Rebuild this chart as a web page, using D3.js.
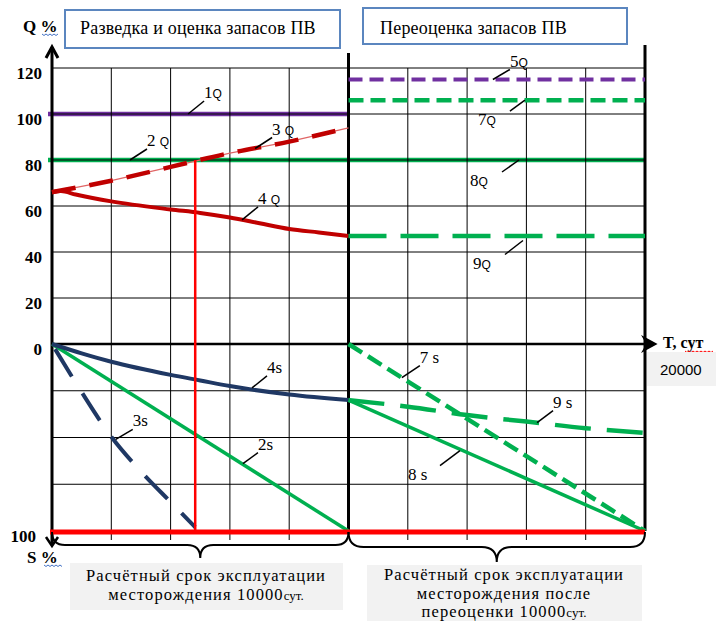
<!DOCTYPE html>
<html>
<head>
<meta charset="utf-8">
<script src="https://cdn.jsdelivr.net/npm/d3@7"></script>
<style>
  body { margin: 0; background: #fff; }
  svg text { font-family: "Liberation Serif", "Times New Roman", serif; fill: #000; }
</style>
</head>
<body>
<div id="chart-area"></div>
<script>
// шкалы
var qTicks = [0, 20, 40, 60, 80, 100, 120];
var sTicks = [25, 50, 75, 100];
var tGrid = [2000, 4000, 6000, 8000, 12000, 14000, 16000, 18000];

// кривые Q, %  ([T, сут ; Q, %])
var q1 = [[0, 100], [10000, 100]];
var q3 = [[0, 66], [2000, 71], [4000, 77], [6000, 83], [8000, 88], [10000, 94]];
var q4 = [[0, 66], [300, 66.5], [800, 65], [2000, 62], [4000, 58.5], [5000, 57],
          [6000, 55], [7000, 52.5], [8000, 50], [9000, 48.5], [10000, 47]];
var q5 = [[10000, 115], [20000, 115]];
var q7 = [[10000, 106], [20000, 106]];
var q8 = [[0, 80], [20000, 80]];
var q9 = [[10000, 47], [20000, 47]];

// кривые S, %
var s2 = [[0, 0], [10000, 100]];
var s3 = [[0, 0], [950, 24.5], [1950, 48.5], [3050, 69], [4000, 84.5], [4830, 98]];
var s4 = [[0, 0], [1000, 5], [2000, 9.5], [4000, 16.5], [5000, 19.5], [6000, 22.5],
          [8000, 27], [10000, 30]];
var s7 = [[10000, 0], [20000, 100]];
var s8 = [[10000, 30], [20000, 100]];
var s9 = [[10000, 30], [12000, 33.5], [14000, 38], [16000, 41.5], [18000, 45], [20000, 47.5]];

var tLife = 4830;   // красная вертикаль: Q = 80 %
var tMax = 20000;

var svg = d3.select("#chart-area")
  .append("svg")
  .attr("width", 716)
  .attr("height", 621);

var x = d3.scaleLinear().domain([0, tMax]).range([52, 645]);
var yQ = d3.scaleLinear().domain([0, 120]).range([344, 68]);
var yS = d3.scaleLinear().domain([0, 100]).range([344, 531]);

// линии у оси начинаются чуть левее неё
var px = (d) => x(d[0]) - (d[0] == 0 ? 4 : 0);
var lineQ = d3.line().x((d) => x(d[0])).y((d) => yQ(d[1]));
var lineS = d3.line().x((d) => x(d[0])).y((d) => yS(d[1]));

function path(data, gen, color, width, dash, curve) {
  svg.append("path")
    .datum(data)
    .attr("d", gen.curve(curve || d3.curveLinear))
    .attr("fill", "none")
    .attr("stroke", color)
    .attr("stroke-width", width)
    .attr("stroke-dasharray", dash || null);
}

// 1Q и 8Q лежат под сеткой
path(q1, d3.line().x(px).y((d) => yQ(d[1])), "#7030A0", 4.5);
path(q8, d3.line().x(px).y((d) => yQ(d[1])), "#00B050", 4.5);

// сетка
var grid = svg.append("g").attr("stroke", "#000").attr("stroke-width", 1);
grid.selectAll(".hq")
  .data(qTicks.filter((d) => d > 0))
  .enter().append("line")
  .attr("x1", x(0)).attr("x2", x(tMax))
  .attr("y1", (d) => yQ(d)).attr("y2", (d) => yQ(d));
grid.selectAll(".hs")
  .data(sTicks)
  .enter().append("line")
  .attr("x1", x(0)).attr("x2", x(tMax))
  .attr("y1", (d) => yS(d)).attr("y2", (d) => yS(d));
grid.selectAll(".vt")
  .data(tGrid)
  .enter().append("line")
  .attr("x1", (d) => x(d)).attr("x2", (d) => x(d))
  .attr("y1", yQ(120)).attr("y2", yS(100) + 9);

// толстые вертикали 10000 и 20000
svg.append("line").attr("x1", x(10000)).attr("x2", x(10000))
  .attr("y1", 53).attr("y2", yS(100)).attr("stroke", "#000").attr("stroke-width", 3);
svg.append("line").attr("x1", x(tMax)).attr("x2", x(tMax))
  .attr("y1", 45).attr("y2", yS(100)).attr("stroke", "#000").attr("stroke-width", 3);

// оси
svg.append("line").attr("x1", x(0)).attr("x2", x(0))
  .attr("y1", 47).attr("y2", 545).attr("stroke", "#000").attr("stroke-width", 3);
svg.append("path").attr("d", "M46,58L52,47L58,58").attr("fill", "none")
  .attr("stroke", "#000").attr("stroke-width", 3);
svg.append("path").attr("d", "M46,537L52,546L58,537").attr("fill", "none")
  .attr("stroke", "#000").attr("stroke-width", 2.5);
svg.append("line").attr("x1", x(0)).attr("x2", 652)
  .attr("y1", yQ(0)).attr("y2", yQ(0)).attr("stroke", "#000").attr("stroke-width", 2.5);
svg.append("path").attr("d", "M643,337L656,344L643,351L647,344Z").attr("fill", "#000")
  .attr("stroke", "#000").attr("stroke-width", 1.5);

var axQ = svg.append("g")
  .attr("transform", "translate(42,0)")
  .call(d3.axisLeft(yQ).tickValues(qTicks).tickSize(0).tickPadding(0));
axQ.select(".domain").remove();
var axS = svg.append("g")
  .attr("transform", "translate(36,0)")
  .call(d3.axisLeft(yS).tickValues([100]).tickSize(0).tickPadding(0));
axS.select(".domain").remove();
svg.selectAll(".tick text")
  .attr("dy", "0.6em")
  .style("font-family", "Liberation Serif")
  .style("font-size", "17px")
  .style("font-weight", "bold");

// кривые
path(q3, lineQ, "#E06666", 1.3);
path(q3, lineQ, "#C00000", 4.5, "24,14", d3.curveMonotoneX);
path(q4, lineQ, "#C00000", 4, null, d3.curveMonotoneX);
path(q5, lineQ, "#7030A0", 4, "14,7");
path(q7, lineQ, "#00B050", 4.5, "15,7");
path(q9, lineQ, "#00B050", 4.5, "38,14");

path(s2, lineS, "#00B050", 3.5);
path(s3, lineS, "#1F3864", 4, "0,6,32,14", d3.curveMonotoneX);
path(s4, lineS, "#1F3864", 4, null, d3.curveMonotoneX);
path(s7, lineS, "#00B050", 4.5, "16,7");
path(s8, lineS, "#00B050", 3.5);
path(s9, lineS, "#00B050", 4.5, "36,16", d3.curveMonotoneX);

// красные линии: срок эксплуатации
svg.append("line").attr("x1", x(tLife)).attr("x2", x(tLife))
  .attr("y1", yQ(80)).attr("y2", yS(100)).attr("stroke", "#FF0000").attr("stroke-width", 2.5);
svg.append("line").attr("x1", x(0) - 2).attr("x2", x(tMax))
  .attr("y1", yS(100) + 1).attr("y2", yS(100) + 1).attr("stroke", "#FF0000").attr("stroke-width", 5);

// подписи кривых: [T, значение, шкала, dx, dy, цифра, индекс]
var labels = [
  [4590, 100, "q", 16, -13, "1", "Q"],
  [2630, 80, "q", 17, -11, "2 ", "Q"],
  [6850, 85, "q", 17, -11, "3 ", "Q"],
  [6410, 54, "q", 16, -13, "4 ", "Q"],
  [14870, 115, "q", 17, -10, "5", "Q"],
  [15950, 106, "q", -15, 11, "7", "Q"],
  [15750, 80, "q", -17, 12, "8", "Q"],
  [15885, 45, "q", -18, 14, "9", "Q"],
  [6745, 23.5, "s", 15, -12, "4", "s"],
  [2150, 51, "s", 17, -10, "3", "s"],
  [6440, 64, "s", 15, -11, "2", "s"],
  [11800, 18, "s", 18, -12, "7 ", "s"],
  [16360, 42, "s", 16, -12, "9 ", "s"],
  [13760, 57, "s", -20, 15, "8 ", "s"]
];
var lab = svg.append("g");
labels.forEach(function (d) {
  var x0 = x(d[0]), y0 = d[2] == "q" ? yQ(d[1]) : yS(d[1]);
  var x1 = x0 + d[3], y1 = y0 + d[4];
  lab.append("line").attr("x1", x0).attr("y1", y0).attr("x2", x1).attr("y2", y1)
    .attr("stroke", "#000").attr("stroke-width", 1.5);
  var tx = d[3] > 0 ? x1 : x1 - 32, ty = d[4] < 0 ? y1 - 3 : y1 + 14;
  var t = lab.append("text").attr("x", tx).attr("y", ty)
    .style("font-size", "17px").style("white-space", "pre");
  t.append("tspan").text(d[5]);
  t.append("tspan").text(d[6])
    .style("font-family", d[6] == "Q" ? "Liberation Sans" : "Liberation Serif")
    .style("font-size", d[6] == "Q" ? "12px" : "17px");
});

// подписи осей
function wave(x0, x1, y, color) {
  var p = "M" + x0 + "," + y;
  for (var xi = x0, k = 0; xi < x1; xi += 2, k++) p += "L" + (xi + 2) + "," + (y + (k % 2 ? 0 : 1.5));
  svg.append("path").attr("d", p).attr("fill", "none").attr("stroke", color).attr("stroke-width", 1);
}
svg.append("text").attr("x", 23).attr("y", 32).text("Q %")
  .style("font-size", "17px").style("font-weight", "bold");
wave(42, 58, 34, "#4472C4");
svg.append("text").attr("x", 27).attr("y", 563).text("S %")
  .style("font-size", "17px").style("font-weight", "bold");
wave(44, 61, 565, "#4472C4");
svg.append("text").attr("x", 663).attr("y", 348).text("T, сут")
  .style("font-size", "16px").style("font-weight", "bold");
wave(685, 713, 351, "#FF0000");

svg.append("rect").attr("x", 647).attr("y", 352).attr("width", 69).attr("height", 34).attr("fill", "#F2F2F2");
svg.append("text").attr("x", 660).attr("y", 375).text("20000")
  .style("font-family", "Liberation Sans").style("font-size", "15px");

// заголовки этапов
var boxes = [
  [65, 10, 275, 38, 80, "Разведка и оценка запасов ПВ"],
  [363, 8, 264, 36, 380, "Переоценка запасов ПВ"]
];
boxes.forEach(function (b) {
  svg.append("rect").attr("x", b[0]).attr("y", b[1]).attr("width", b[2]).attr("height", b[3])
    .attr("fill", "#fff").attr("stroke", "#5B86BF").attr("stroke-width", 2);
  svg.append("text").attr("x", b[4]).attr("y", 34).text(b[5])
    .style("font-size", "18px").style("letter-spacing", "0.2px");
});

// фигурные скобки
function brace(x0, x1, y, depth) {
  var m = (x0 + x1) / 2, h = depth / 2;
  return "M" + x0 + "," + y + " Q" + x0 + "," + (y + h) + " " + (x0 + h) + "," + (y + h) +
    " L" + (m - h) + "," + (y + h) + " Q" + m + "," + (y + h) + " " + m + "," + (y + depth) +
    " Q" + m + "," + (y + h) + " " + (m + h) + "," + (y + h) +
    " L" + (x1 - h) + "," + (y + h) + " Q" + x1 + "," + (y + h) + " " + x1 + "," + y;
}
svg.append("path").attr("d", brace(x(0), x(10000), 532, 26))
  .attr("fill", "none").attr("stroke", "#000").attr("stroke-width", 2);
svg.append("path").attr("d", brace(x(10000), x(tMax), 532, 30))
  .attr("fill", "none").attr("stroke", "#000").attr("stroke-width", 2);

// подписи снизу
var captions = [
  [70, 563, 273, 47, 206, 581, ["Расчётный срок эксплуатации", "месторождения 10000"]],
  [367, 565, 275, 56, 504, 580, ["Расчётный срок эксплуатации", "месторождения после", "переоценки 10000"]]
];
captions.forEach(function (c) {
  svg.append("rect").attr("x", c[0]).attr("y", c[1]).attr("width", c[2]).attr("height", c[3]).attr("fill", "#F2F2F2");
  c[6].forEach(function (s, i) {
    var t = svg.append("text").attr("x", c[4]).attr("y", c[5] + i * 18.5)
      .attr("text-anchor", "middle")
      .style("font-size", "16.5px").style("letter-spacing", "1.1px");
    t.append("tspan").text(s);
    if (i == c[6].length - 1) t.append("tspan").text("сут.").style("font-size", "13px").style("letter-spacing", "0");
  });
});
</script>
</body>
</html>
